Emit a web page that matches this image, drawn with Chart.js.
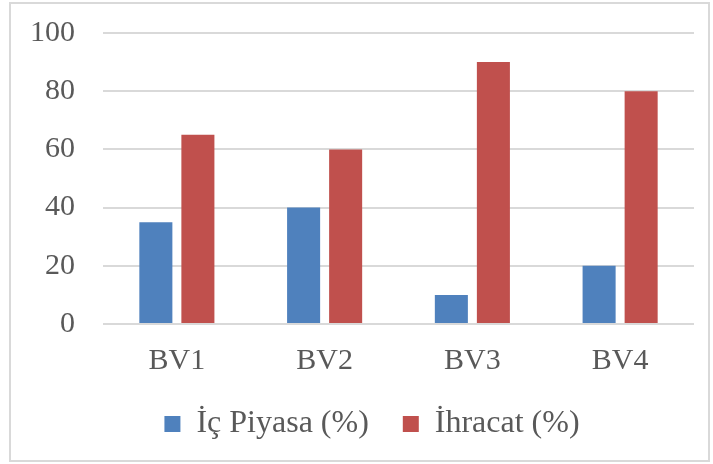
<!DOCTYPE html>
<html>
<head>
<meta charset="utf-8">
<script src="https://cdn.jsdelivr.net/npm/chart.js@4"></script>
<style>
  html, body { margin: 0; padding: 0; background: #fff; }
  #wrap { width: 713px; height: 464px; }
</style>
</head>
<body>
<div id="wrap"><canvas id="chart" width="713" height="464"></canvas></div>
<script>
const categories = ["BV1", "BV2", "BV3", "BV4"]
const icPiyasa = [35, 40, 10, 20]
const ihracat = [65, 60, 90, 80]
const yTicks = [0, 20, 40, 60, 80, 100]

const frame = {
  id: "frame",
  beforeDraw(chart) {
    const ctx = chart.ctx
    ctx.save()
    ctx.fillStyle = "#fff"
    ctx.fillRect(0, 0, chart.width, chart.height)
    ctx.strokeStyle = "#d9d9d9"
    ctx.lineWidth = 2
    ctx.strokeRect(10, 3, 699, 458)
    ctx.restore()
  },
  // nudge legend right, it sits centred under the plot in the original
  afterLayout(chart) {
    chart.legend.left += 25
    chart.legend.right += 25
  }
}

const font = { family: "'Liberation Serif', 'Times New Roman', serif", size: 30 }
const legendFont = { family: "'Liberation Serif', 'Times New Roman', serif", size: 32 }

new Chart(document.getElementById("chart"), {
  type: "bar",
  data: {
    labels: categories,
    datasets: [
      { label: "İç Piyasa (%)", data: icPiyasa, backgroundColor: "#4f81bd" },
      { label: "İhracat (%)", data: ihracat, backgroundColor: "#c0504d" }
    ]
  },
  options: {
    responsive: false,
    animation: false,
    layout: { padding: { top: 33, right: 19, left: 0, bottom: 14 } },
    datasets: { bar: { categoryPercentage: 0.569, barPercentage: 0.786 } },
    plugins: {
      legend: {
        position: "bottom",
        labels: { font: legendFont, color: "#595959", boxWidth: 16, boxHeight: 16, padding: 34 }
      },
      tooltip: { enabled: false }
    },
    scales: {
      x: {
        grid: { display: false },
        border: { display: false },
        afterFit: s => { s.height = 50 },
        ticks: { font, color: "#595959", padding: 11 }
      },
      y: {
        min: 0,
        max: 100,
        afterFit: s => { s.width = 103; s.paddingTop = 0; s.paddingBottom = 0 },
        afterBuildTicks: s => { s.ticks = yTicks.map(v => ({ value: v })) },
        grid: { color: "#d9d9d9", lineWidth: 2, drawTicks: false },
        border: { display: false },
        ticks: { font, color: "#595959", padding: 28 }
      }
    }
  },
  plugins: [frame]
})
</script>
</body>
</html>
